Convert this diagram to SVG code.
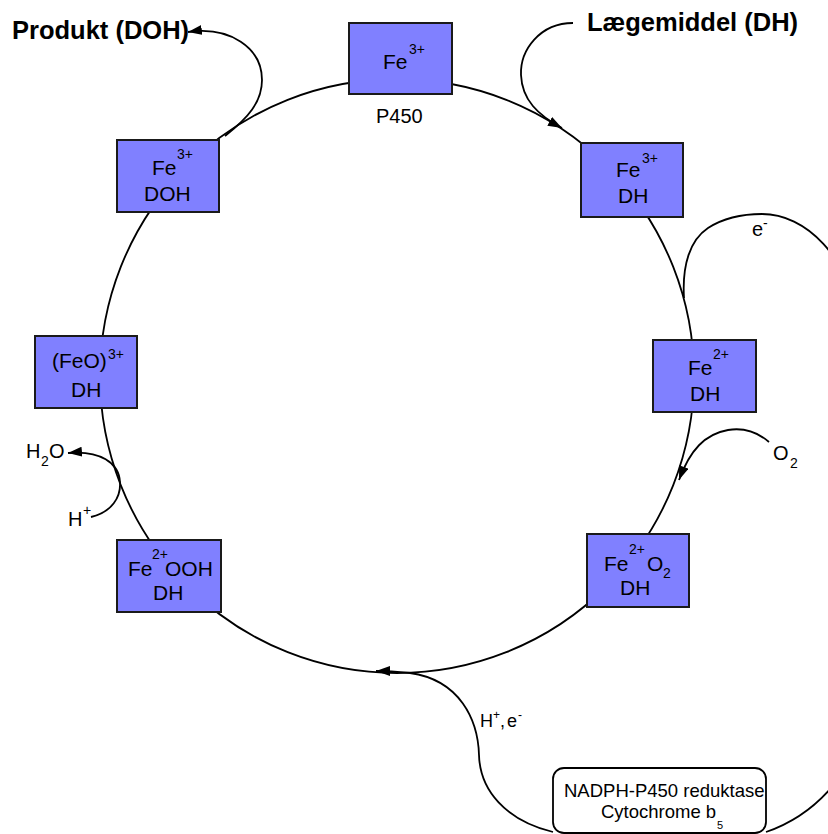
<svg xmlns="http://www.w3.org/2000/svg" width="828" height="834" viewBox="0 0 828 834">
<style>
  text { font-family: "Liberation Sans", Arial, sans-serif; fill: #000; }
  .box { fill: #8080FF; stroke: #1a1a1a; stroke-width: 2; }
  .t { font-size: 21px; }
  .sup { font-size: 14px; }
  .big { font-size: 25.5px; font-weight: bold; }
  .lbl { font-size: 20px; }
  .con { fill: none; stroke: #000; stroke-width: 1.8; }
  .ring { fill: none; stroke: #000; stroke-width: 1.8; }
</style>
<defs>
  <marker id="arr" viewBox="0 0 14 10" refX="14" refY="5" markerWidth="14" markerHeight="10" markerUnits="userSpaceOnUse" orient="auto">
    <path d="M0,0 L14,5 L0,10 Z" fill="#000"/>
  </marker>
</defs>

<g id="connectors">
  <circle class="ring" cx="397" cy="376" r="297"/>
  <path class="con" d="M 225 136 C 248 118, 262 102, 262 80 C 262 48, 230 26, 188 32" marker-end="url(#arr)"/>
  <path class="con" d="M 573 23 C 540 23, 520 50, 521 75 C 522 100, 538 115, 562 128" marker-end="url(#arr)"/>
  <path class="con" d="M 684 298 C 682 265, 690 240, 708 228 C 722 219, 740 214, 762 214 C 805 214, 850 255, 860 330 L 860 720 C 858 770, 815 815, 766 832"/>
  <path class="con" d="M 769 442 C 755 430, 740 428, 728 430 C 705 434, 690 450, 679 480" marker-end="url(#arr)"/>
  <path class="con" d="M 91 517 C 112 512, 121 497, 120 482 C 119 463, 100 450, 68 453" marker-end="url(#arr)"/>
  <path class="con" d="M 553 832 C 505 820, 480 790, 479 755 C 478 720, 460 680, 410 673 C 400 672, 390 671, 376 671" marker-end="url(#arr)"/>
</g>

<g id="node-p450">
  <rect class="box" x="349" y="23" width="103" height="71"/>
  <text class="t" x="383" y="69">Fe</text>
  <text class="sup" x="409" y="54">3+</text>
  <text x="376" y="123" style="font-size:20px">P450</text>
</g>

<g id="node-fe3-dh">
  <rect class="box" x="581" y="143" width="102" height="74"/>
  <text class="t" x="616" y="177">Fe</text>
  <text class="sup" x="642" y="163">3+</text>
  <text class="t" x="618" y="203">DH</text>
</g>

<g id="node-fe2-dh">
  <rect class="box" x="653" y="340" width="103" height="72"/>
  <text class="t" x="688" y="375">Fe</text>
  <text class="sup" x="713" y="359">2+</text>
  <text class="t" x="690" y="401">DH</text>
</g>

<g id="node-fe2o2-dh">
  <rect class="box" x="587" y="534" width="102" height="73"/>
  <text class="t" x="604" y="571">Fe</text>
  <text class="sup" x="629" y="554">2+</text>
  <text class="t" x="647" y="571">O</text>
  <text class="sup" x="663" y="578">2</text>
  <text class="t" x="620" y="595">DH</text>
</g>

<g id="node-fe2ooh-dh">
  <rect class="box" x="117" y="540" width="104" height="72"/>
  <text class="t" x="128" y="576">Fe</text>
  <text class="sup" x="152" y="559">2+</text>
  <text class="t" x="165" y="576">OOH</text>
  <text class="t" x="153" y="600">DH</text>
</g>

<g id="node-feo-dh">
  <rect class="box" x="35" y="336" width="102" height="72"/>
  <text class="t" x="52" y="368">(FeO)</text>
  <text class="sup" x="108" y="359">3+</text>
  <text class="t" x="71" y="397">DH</text>
</g>

<g id="node-fe3-doh">
  <rect class="box" x="117" y="140" width="102" height="72"/>
  <text class="t" x="152" y="175">Fe</text>
  <text class="sup" x="177" y="159">3+</text>
  <text class="t" x="144" y="201">DOH</text>
</g>

<g id="node-reductase">
  <rect x="553" y="768" width="213" height="65" rx="11" ry="11" fill="#fff" stroke="#000" stroke-width="1.8"/>
  <text x="564" y="797" style="font-size:18.5px">NADPH-P450 reduktase</text>
  <text x="601" y="818" style="font-size:18.5px">Cytochrome b</text>
  <text x="717" y="829" style="font-size:11px">5</text>
</g>

<g id="labels">
  <text class="big" x="12" y="39">Produkt (DOH)</text>
  <text class="big" x="587" y="31">Lægemiddel (DH)</text>
  <text class="lbl" x="752" y="236">e</text>
  <text class="sup" x="763" y="228">-</text>
  <text class="lbl" x="773" y="460">O</text>
  <text class="sup" x="790" y="468">2</text>
  <text class="lbl" x="26" y="458">H</text>
  <text class="sup" x="41" y="466">2</text>
  <text class="lbl" x="49" y="458">O</text>
  <text class="lbl" x="68" y="526">H</text>
  <text class="sup" x="83" y="515">+</text>
  <text x="480" y="727" style="font-size:18px">H</text>
  <text x="493" y="719" style="font-size:12px">+</text>
  <text x="500" y="727" style="font-size:18px">,</text>
  <text x="507" y="727" style="font-size:18px">e</text>
  <text x="518" y="719" style="font-size:12px">-</text>
</g>
</svg>
